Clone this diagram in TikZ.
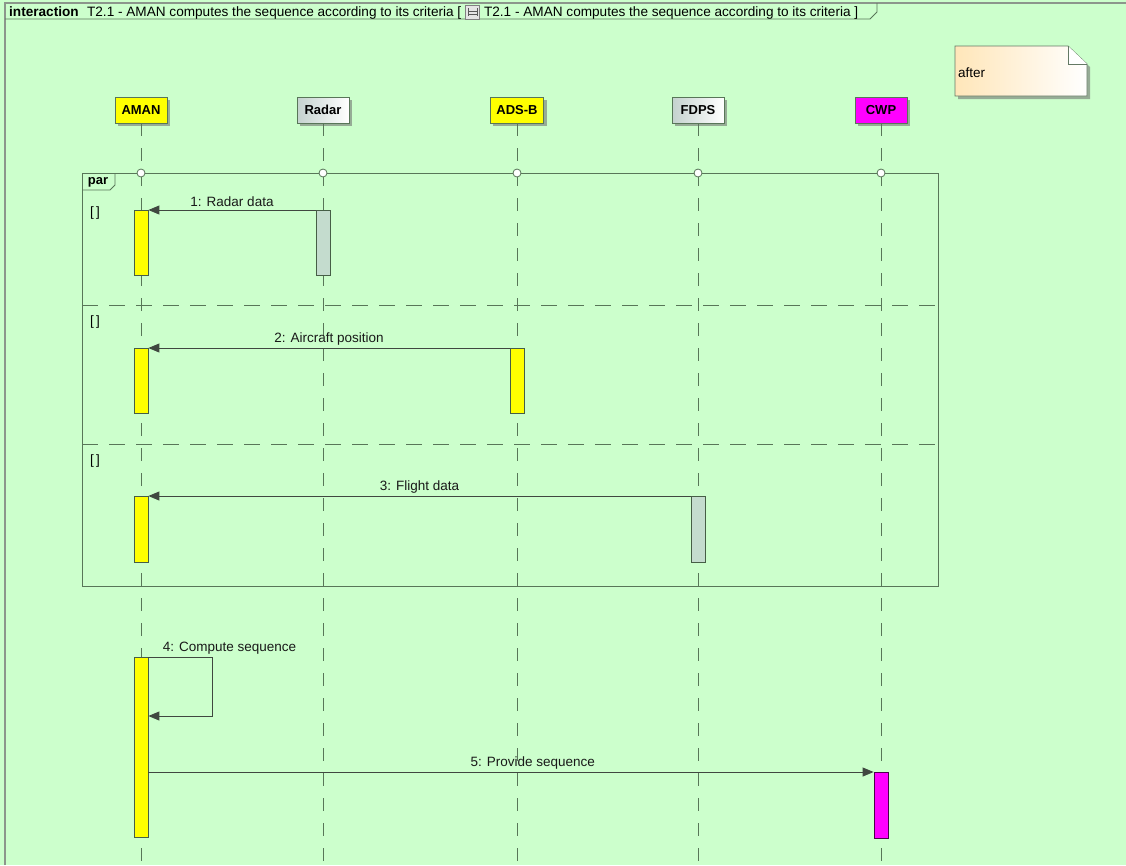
\documentclass[tikz,border=0pt]{standalone}
\usepackage{fontspec}
\setmainfont{Liberation Sans}
\usetikzlibrary{arrows.meta,shadows}
\definecolor{bg}{RGB}{204,255,204}
\definecolor{edge}{RGB}{88,118,88}
\definecolor{msgcol}{RGB}{64,72,64}
\definecolor{framecol}{RGB}{140,150,140}
\definecolor{shadowcol}{RGB}{150,172,150}
\definecolor{amanyel}{RGB}{255,255,0}
\definecolor{cwpmag}{RGB}{255,0,255}
\definecolor{radaract}{RGB}{196,220,206}
\definecolor{graybox}{RGB}{196,210,206}
\definecolor{notecol}{RGB}{255,230,185}
\begin{document}
\begin{tikzpicture}[x=1pt,y=-1pt,
  txt/.style={font=\fontsize{13.5}{16}\selectfont},
  ttl/.style={font=\fontsize{13.6}{16}\selectfont},
  head/.style={draw=edge, line width=0.8pt, minimum height=26pt, minimum width=52pt,
    inner xsep=6pt, font=\bfseries\fontsize{13}{15}\selectfont,
    drop shadow={shadow xshift=3pt, shadow yshift=-3pt, fill=shadowcol, opacity=1}},
  lifeline/.style={edge, line width=0.8pt, dash pattern=on 13pt off 12pt},
  act/.style={draw=edge!80!black, line width=0.8pt, minimum width=14pt, inner sep=0pt, anchor=north},
  msg/.style={msgcol, line width=0.9pt, -{Triangle[length=11pt,width=9pt]}},
  lbl/.style={txt, above, inner sep=2.5pt, text=black!90},
  joint/.style={circle, draw=edge, fill=white, line width=0.8pt, minimum size=8pt, inner sep=0pt},
  guard/.style={txt, anchor=west, inner sep=0pt},
  sep/.style={edge, line width=0.9pt, dash pattern=on 16pt off 11pt}
]
\useasboundingbox (0,0) rectangle (1126,865);
\fill[bg] (0,0) rectangle (1126,865);

% outer interaction frame and its heading tab
\draw[framecol, line width=1.2pt] (5,865) -- (5,3) -- (1126,3);
\draw[edge, line width=0.8pt] (5,19) -- (870,19) -- (877,12) -- (877,3);
\node[anchor=base west, inner sep=0pt, font=\bfseries\fontsize{13.6}{16}\selectfont] (kw) at (9,16) {interaction};
\node[anchor=base west, inner sep=0pt, ttl] (t1) at ([xshift=8pt]kw.base east)
  {T2.1 - AMAN computes the sequence according to its criteria [};
\node[anchor=west, draw=gray, fill=gray!20, minimum width=14pt, minimum height=14pt, inner sep=0pt]
  (icon) at ([xshift=4pt,yshift=4pt]t1.base east) {};
\draw[gray!70!black, line width=0.5pt]
  ([xshift=3pt,yshift=-3pt]icon.north west) -- ([xshift=3pt,yshift=3pt]icon.south west)
  ([xshift=-3pt,yshift=-3pt]icon.north east) -- ([xshift=-3pt,yshift=3pt]icon.south east)
  ([xshift=3pt,yshift=-6pt]icon.north west) -- ([xshift=-3pt,yshift=-6pt]icon.north east)
  ([xshift=3pt,yshift=5pt]icon.south west) -- ([xshift=-3pt,yshift=5pt]icon.south east);
\node[anchor=base west, inner sep=0pt, ttl] (t2) at ([xshift=4pt]t1.base east -| icon.east)
  {T2.1 - AMAN computes the sequence according to its criteria ]};

% lifeline heads
\node[head, fill=amanyel] (aman) at (141,110) {AMAN};
\node[head, left color=graybox, right color=white] (radar) at (323,110) {Radar};
\node[head, fill=amanyel] (adsb) at (517,110) {ADS-B};
\node[head, left color=graybox, right color=white] (fdps) at (698,110) {FDPS};
\node[head, fill=cwpmag] (cwp) at (881,110) {CWP};

% lifelines
\foreach \h in {aman,radar,adsb,fdps,cwp}
  \draw[lifeline] (\h.south) -- (\h.south |- 0,865);

% par combined fragment
\node[draw=edge, line width=0.9pt, minimum width=856pt, minimum height=413pt, anchor=north west, inner sep=0pt]
  (par) at (82,173) {};
\draw[edge, line width=0.9pt] (82,190) -- (110,190) -- (115,185) -- (115,173);
\node[font=\bfseries\fontsize{13}{15}\selectfont, inner sep=0pt] (parlbl) at (98,182) {par};
\draw[sep] (82,305) -- (938,305);
\draw[sep] (82,444) -- (938,444);
\node[guard] (g1) at (90,213) {[\,]};
\node[guard] (g2) at (90,322) {[\,]};
\node[guard] (g3) at (90,461) {[\,]};
\foreach \h in {aman,radar,adsb,fdps,cwp}
  \node[joint] (j\h) at (\h |- 0,173) {};

% activations
\node[act, fill=amanyel, minimum height=65pt] (aman1) at (141,210) {};
\node[act, fill=radaract, minimum height=65pt] (radar1) at (323,210) {};
\node[act, fill=amanyel, minimum height=65pt] (aman2) at (141,348) {};
\node[act, fill=amanyel, minimum height=65pt] (adsb2) at (517,348) {};
\node[act, fill=amanyel, minimum height=66pt] (aman3) at (141,496) {};
\node[act, fill=radaract, minimum height=66pt] (fdps3) at (698,496) {};
\node[act, fill=amanyel, minimum height=180pt] (aman4) at (141,657) {};
\node[act, fill=cwpmag, draw=violet!60!black, minimum height=66pt] (cwp5) at (881,772) {};

% messages
\draw[msg] (radar1.north west) -- node[lbl]{1: Radar data} (aman1.north east);
\draw[msg] (adsb2.north west) -- node[lbl]{2: Aircraft position} (aman2.north east);
\draw[msg] (fdps3.north west) -- node[lbl]{3: Flight data} (aman3.north east);
\draw[msg] (aman4.north east) -- node[lbl, pos=0.18, anchor=south west]{4: Compute sequence} ++(64,0)
  |- ([yshift=-59pt]aman4.north east);
\draw[msg] (aman4.east |- cwp5.north) -- node[lbl, pos=0.53]{5: Provide sequence} (cwp5.north west);

% note
\fill[shadowcol] (958,49) -- (1071,49) -- (1090,67) -- (1090,99) -- (958,99) -- cycle;
\draw[edge!70!gray, line width=0.8pt, left color=notecol, right color=white]
  (955,46) -- (1068,46) -- (1087,64) -- (1087,96) -- (955,96) -- cycle;
\draw[edge!70!gray, line width=0.8pt, fill=white] (1068,46) -- (1068,64) -- (1087,64);
\node[txt, anchor=west, inner sep=0pt] (note) at (958,73) {after};
\end{tikzpicture}
\end{document}
